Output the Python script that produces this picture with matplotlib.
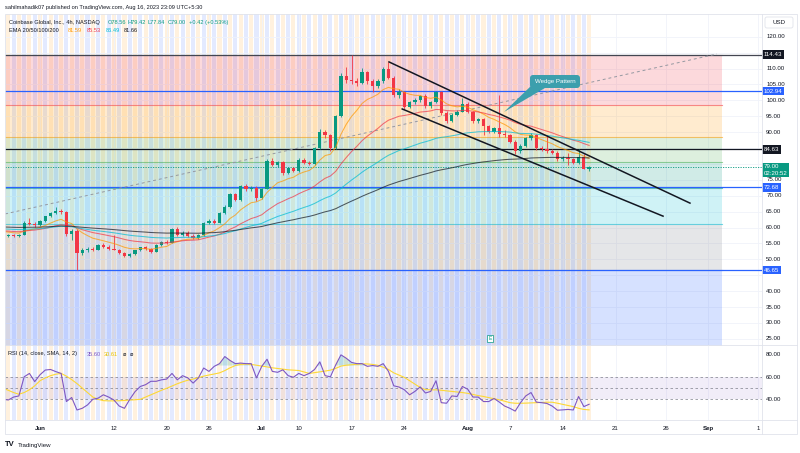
import matplotlib
matplotlib.use("Agg")
import matplotlib.pyplot as plt
import matplotlib.transforms as mtransforms
from matplotlib.patches import FancyBboxPatch, Polygon, Rectangle
import numpy as np

plt.rcParams["font.family"] = ["Liberation Sans", "DejaVu Sans"]

W, H = 800, 453
FS = 4.4
FS_HEAD = 4.1
TEXT = "#131722"
UP = "#089981"
DOWN = "#f23645"
GRID = "#f0f3fa"
BORDER = "#e0e3eb"

# ---- COIN 4h bars, May 25 -> Aug 16 2023 ----
opens = [58.3, 57.3, 57.6, 57.4, 57.8, 61.5, 61.2, 60.9, 62.2, 63.5,
         64.7, 65.3, 64.8, 58.0, 59.0, 52.0, 53.0, 53.4, 53.0, 54.5,
         54.0, 53.4, 53.1, 51.9, 51.0, 51.7, 52.8, 53.8, 53.2, 52.4,
         54.6, 55.6, 55.1, 59.5, 57.8, 58.4, 57.5, 56.8, 57.6, 61.5,
         62.2, 61.6, 64.6, 66.6, 70.5, 68.8, 73.0, 72.0, 72.6, 69.4,
         72.2, 81.0, 79.8, 80.6, 77.2, 78.6, 77.9, 81.4, 80.4, 80.1,
         85.0, 90.2, 89.0, 85.0, 95.0, 107.8, 106.5, 106.2, 105.4, 108.8,
         106.0, 104.4, 106.0, 110.0, 107.2, 101.8, 102.6, 98.0, 99.5, 100.1,
         101.3, 98.1, 99.4, 102.6, 96.1, 93.6, 95.5, 96.5, 99.0, 96.4,
         93.4, 94.1, 92.0, 90.1, 91.2, 89.4, 89.0, 87.0, 84.0, 85.8,
         88.1, 89.0, 85.0, 84.6, 84.1, 83.5, 81.5, 82.0, 81.6, 80.3,
         82.2, 78.56]
highs = [58.6, 57.9, 58.0, 58.0, 62.0, 63.0, 61.8, 62.5, 63.8, 65.0,
         66.6, 65.8, 65.2, 59.5, 59.6, 53.5, 53.8, 53.9, 54.8, 55.0,
         54.4, 57.6, 53.4, 52.2, 52.0, 53.0, 54.0, 54.2, 53.6, 54.8,
         55.9, 56.0, 60.0, 60.2, 58.9, 58.8, 57.9, 57.9, 61.8, 62.6,
         62.8, 65.0, 67.0, 71.0, 71.0, 73.4, 73.6, 73.0, 73.0, 72.5,
         81.6, 81.8, 81.0, 81.0, 79.0, 79.0, 81.8, 81.9, 81.0, 85.5,
         91.0, 90.6, 89.4, 95.5, 108.5, 110.5, 114.43, 107.2, 110.2, 109.4,
         106.6, 106.6, 110.6, 112.0, 107.6, 103.6, 103.0, 99.8, 100.6, 101.8,
         101.9, 99.8, 103.0, 103.0, 96.6, 95.9, 96.9, 100.7, 99.4, 96.8,
         94.6, 94.4, 92.3, 91.6, 101.7, 90.8, 89.4, 87.5, 86.2, 88.6,
         89.6, 89.4, 85.6, 89.0, 84.6, 84.0, 82.6, 83.4, 81.8, 84.8,
         83.0, 79.42]
lows = [57.0, 56.9, 57.2, 57.2, 57.6, 60.8, 60.3, 60.6, 61.9, 63.2,
        64.2, 64.3, 57.5, 56.0, 46.65, 51.5, 52.4, 52.7, 52.8, 53.6,
        53.0, 52.9, 51.6, 50.6, 50.7, 51.4, 52.5, 52.9, 52.0, 52.2,
        54.3, 54.7, 55.0, 57.4, 57.3, 57.2, 56.3, 56.5, 57.3, 61.0,
        61.0, 61.3, 64.2, 66.3, 68.3, 68.5, 71.5, 71.4, 68.5, 69.0,
        72.0, 79.3, 79.2, 76.5, 76.8, 77.4, 77.6, 80.0, 79.6, 79.8,
        84.8, 88.3, 84.2, 84.6, 94.8, 105.6, 105.2, 104.6, 105.0, 105.3,
        102.6, 103.8, 105.6, 106.6, 101.0, 100.6, 97.4, 97.5, 99.0, 99.6,
        97.6, 97.7, 99.1, 95.5, 93.0, 93.3, 95.0, 96.2, 96.0, 93.0,
        92.9, 89.2, 89.6, 89.8, 88.4, 88.6, 86.5, 83.2, 83.6, 85.5,
        87.6, 84.4, 84.0, 83.6, 83.0, 81.0, 81.0, 79.6, 80.0, 80.0,
        78.3, 77.84]
closes = [57.3, 57.6, 57.4, 57.8, 61.5, 61.2, 60.9, 62.2, 63.5, 64.7,
          65.3, 64.8, 58.0, 59.0, 52.0, 53.0, 53.4, 53.0, 54.5, 54.0,
          53.4, 53.1, 51.9, 51.0, 51.7, 52.8, 53.8, 53.2, 52.4, 54.6,
          55.6, 55.1, 59.5, 57.8, 58.4, 57.5, 56.8, 57.6, 61.5, 62.2,
          61.6, 64.6, 66.6, 70.5, 68.8, 73.0, 72.0, 72.6, 69.4, 72.2,
          81.0, 79.8, 80.6, 77.2, 78.6, 77.9, 81.4, 80.4, 80.1, 85.0,
          90.2, 89.0, 85.0, 95.0, 107.8, 106.5, 106.2, 105.4, 108.8, 106.0,
          104.4, 106.0, 110.0, 107.2, 101.8, 102.6, 98.0, 99.5, 100.1, 101.3,
          98.1, 99.4, 102.6, 96.1, 93.6, 95.5, 96.5, 99.0, 96.4, 93.4,
          94.1, 92.0, 90.1, 91.2, 89.4, 89.0, 87.0, 84.0, 85.8, 88.1,
          89.0, 85.0, 84.6, 84.1, 83.5, 81.5, 82.0, 81.6, 80.3, 82.2,
          78.58, 79.00]

rsi = [40, 39.4, 42, 43, 60, 63, 55.7, 61.8, 66, 66.5,
       64.6, 63, 38, 41.6, 30.5, 32, 35, 40, 41, 44,
       42, 39.4, 34, 32, 40, 46.8, 51.4, 53, 56, 56,
       57.3, 58, 63, 57.3, 61, 59, 54.4, 59, 67.8, 64.8,
       69.3, 71.7, 78, 74.5, 71.7, 72.2, 71.7, 71.7, 59, 69.3,
       75.6, 64.8, 64, 66.2, 61, 59.6, 63, 61, 63, 66.5,
       73.3, 61, 60, 70.5, 79.5, 76.5, 72.8, 71.7, 71.7, 69.3,
       70, 69.3, 71.7, 64.8, 52, 50.9, 48.5, 44, 47, 51,
       45.6, 47, 56.5, 37, 36.5, 43, 42.5, 51.4, 49, 42,
       42, 38, 38, 40.7, 37.5, 34, 32, 29.5, 37, 43,
       46, 37.5, 37, 36.3, 34, 30.3, 30.6, 31, 30.5, 42.5,
       33.5, 35.6]
rsi_ma = [49.8, 48, 46, 44.5, 46, 48.5, 52, 56.5, 59, 61,
          62.3, 63, 60.6, 57.5, 54, 50, 46, 42, 40, 38.8,
          38.6, 38.6, 38.7, 39, 39.3, 39.6, 40, 42, 44, 46,
          48, 49.8, 51.8, 53.8, 55.5, 57, 58, 59.2, 60.6, 61.6,
          62.5, 63.5, 65.5, 68, 70, 71, 71.3, 71, 70.3, 69.5,
          68.8, 68, 67.4, 66.8, 66.2, 65.9, 65.6, 64.3, 63, 63.7,
          64.4, 65.1, 65.9, 67.5, 69.5, 70.3, 70.7, 71.1, 71.5, 71.4,
          71, 70.2, 68.5, 66.5, 63.5, 61.5, 59.5, 56.5, 53.5, 50.5,
          48.6, 48.4, 48.4, 48, 47.5, 47, 46.5, 46, 45.3, 44.3,
          43.3, 42.5, 41.5, 40.5, 39.5, 38.3, 37, 36.5, 36.5, 36.6,
          36.8, 37, 37.2, 37.4, 37.4, 36.5, 35.5, 34.5, 33.5, 32,
          31, 30.6]

# EMA 20/50/100/200; the chart counts two bars for every drawn candle,
# so the smoothing spans in drawn candles are half the nominal lengths
ema_spans = [10, 25, 50, 100]
ema_first = [58.8, 59.0, 59.6, 60.2]
ema_colors = ["#ff9800", "#f23645", "#00bcd4", "#131722"]

# time axis (bar index of each label)
tick_pos = [7, 21, 31, 39, 49, 56, 66, 76, 88, 96, 106, 116, 125.5, 133.5, 143]
tick_labels = ["Jun", "12", "20", "26", "Jul", "10", "17", "24", "Aug",
               "7", "14", "21", "26", "Sep", "1"]
months = {"Jun", "Jul", "Aug", "Sep"}
# right-axis labels not hidden behind a price tag
price_ticks = [25, 30, 35, 40, 50, 55, 60, 65, 70, 75, 90, 95, 100, 105, 110, 120]

# fibonacci retracement 114.43 -> 46.65
fib_hi, fib_lo = 114.43, 46.65
fib_levels = [0, 0.236, 0.382, 0.5, 0.618, 0.786, 1, 1.618]
fib_colors = ["#787b86", "#f23645", "#ff9800", "#4caf50", "#089981",
              "#00bcd4", "#787b86", "#2962ff"]

# horizontal levels with their axis tags
level_prices = [114.43, 102.94, 84.63, 72.68, 46.65]
level_colors = ["#434651", "#2962ff", "#131722", "#2962ff", "#2962ff"]
tag_colors = ["#131722", "#2962ff", "#131722", "#2962ff", "#2962ff"]

# drawings (bar index, price)
trend_idx, trend_px = [0.4, 135.2], [64.3, 114.6]
wedge_top_idx, wedge_top_px = [73.1, 130.1], [112.1, 67.7]
wedge_bot_idx, wedge_bot_px = [75.6, 125.0], [97.3, 63.6]


# pixel calibration of the screenshot
def bar_at(px):
    return 7 + (px - 40) / 5.28


def price_at(py):
    return 30 + (323 - py) / 3.18


def rsi_at(py):
    return 40 + (399.3 - py) / 1.125


def fig_rect(x0, y0, x1, y1):
    return [x0 / W, 1 - y1 / H, (x1 - x0) / W, (y1 - y0) / H]


def ema(values, span, start):
    a = 2 / (span + 1)
    out = [start]
    for v in values[1:]:
        out.append(out[-1] + a * (v - out[-1]))
    return np.array(out)


n = len(closes)
idx = np.arange(n)
o, h, l, c = map(np.array, (opens, highs, lows, closes))
XL = (bar_at(5), bar_at(762))

fig = plt.figure(figsize=(W / 100, H / 100), dpi=100)
fig.patch.set_facecolor("white")

# background session stripes (both panes)
bg = fig.add_axes(fig_rect(5, 14, 762, 420), zorder=0)
bg.set_xlim(*XL)
bg.set_ylim(0, 1)
bg.axis("off")
stripe_cols = ["#2962ff" if k % 2 == 0 else "#ff9800" for k in idx]
bg.bar(idx, 1, width=0.78, bottom=0, color=stripe_cols, alpha=0.13, lw=0)

# ---- price pane ----
ax = fig.add_axes(fig_rect(5, 14, 762, 345), zorder=1)
ax.set_facecolor("none")
ax.set_xlim(*XL)
ax.set_ylim(price_at(345), price_at(14))
for s in ax.spines.values():
    s.set_visible(False)

fx0, fx1 = bar_at(5), bar_at(722)
rng = fib_hi - fib_lo
for k in range(len(fib_levels) - 1):
    top = fib_hi - fib_levels[k] * rng
    bot = fib_hi - fib_levels[k + 1] * rng
    ax.fill_between([fx0, fx1], bot, top, color=fib_colors[k + 1], alpha=0.19, lw=0, zorder=1)
for lv, col in zip(fib_levels, fib_colors):
    ax.plot([fx0, fx1], [fib_hi - lv * rng] * 2, color=col, lw=0.8, alpha=0.55, zorder=1.5)

for p, col in zip(level_prices, level_colors):
    ax.axhline(p, color=col, lw=0.9, zorder=2)

ax.plot(trend_idx, trend_px, color="#9598a1", lw=0.7, ls=(0, (3, 3)), zorder=3)
ax.axhline(closes[-1], color=UP, lw=0.6, ls=(0, (1.5, 1.5)), zorder=3)

cols = np.where(c >= o, UP, DOWN)
ax.vlines(idx, l, h, color=cols, lw=0.6, zorder=4)
ax.bar(idx, np.maximum(np.abs(c - o), 0.25), bottom=np.minimum(o, c), width=0.62,
       color=cols, lw=0, zorder=4.5)

for span, first, col in zip(ema_spans, ema_first, ema_colors):
    ax.plot(idx, ema(c, span, first), color=col, lw=0.75, alpha=0.7, zorder=5)

ax.plot(wedge_top_idx, wedge_top_px, color="#131722", lw=1.1, zorder=6)
ax.plot(wedge_bot_idx, wedge_bot_px, color="#131722", lw=1.1, zorder=6)

ax.set_xticks(tick_pos)
ax.tick_params(axis="x", labelbottom=False, length=0)
ax.set_yticks(list(range(25, 125, 5)))
ax.tick_params(axis="y", length=0, labelleft=False)
ax.grid(color=GRID, lw=0.6, zorder=0.5)
ax.set_axisbelow(True)

tr = mtransforms.blended_transform_factory(ax.transAxes, ax.transData)
for p in price_ticks:
    ax.text(1.0055, p, f"{p:.2f}", transform=tr, ha="left", va="center", fontsize=FS,
            color=TEXT, clip_on=False)
for p, col in zip(level_prices, tag_colors):
    ax.text(1.002, p, f"{p:.2f}", transform=tr, ha="left", va="center", fontsize=FS,
            color="white", bbox=dict(boxstyle="square,pad=0.3", fc=col, ec="none"),
            zorder=20, clip_on=False)
ax.text(1.002, closes[-1] - 0.9, f"{closes[-1]:.2f}\n02:20:52", transform=tr, ha="left",
        va="center", fontsize=FS, color="white", linespacing=1.3,
        bbox=dict(boxstyle="square,pad=0.3", fc=UP, ec="none"), zorder=20, clip_on=False)

# ---- RSI pane ----
ar = fig.add_axes(fig_rect(5, 345, 762, 420), zorder=1)
ar.set_facecolor("none")
ar.set_xlim(*XL)
ar.set_ylim(rsi_at(420), rsi_at(345))
for s in ar.spines.values():
    s.set_visible(False)
ar.axhspan(40, 60, color="#7e57c2", alpha=0.1, lw=0)
for lv in (60, 50, 40):
    ar.axhline(lv, color="#787b86", lw=0.6, ls=(0, (3, 3)), alpha=0.8)
r = np.array(rsi)
ar.fill_between(idx, 70, r, where=r > 70, interpolate=True, color=UP, alpha=0.18, lw=0)
ar.plot(idx, rsi_ma, color="#fdd835", lw=0.8)
ar.plot(idx, rsi, color="#7e57c2", lw=0.8)
ar.yaxis.tick_right()
ar.set_yticks([40, 60, 80])
ar.set_yticklabels(["40.00", "60.00", "80.00"])
ar.tick_params(axis="y", length=0, pad=3, labelsize=FS, labelcolor=TEXT)
ar.set_xticks(tick_pos)
ar.set_xticklabels(tick_labels)
ar.tick_params(axis="x", length=0, pad=4.5, labelsize=FS, labelcolor=TEXT)
for lab in ar.get_xticklabels():
    if lab.get_text() in months:
        lab.set_fontweight("bold")
ar.grid(axis="x", color=GRID, lw=0.6)
ar.set_axisbelow(True)

# ---- chrome in pixel space ----
ov = fig.add_axes([0, 0, 1, 1], zorder=5)
ov.set_xlim(0, W)
ov.set_ylim(H, 0)
ov.axis("off")
ov.add_patch(Rectangle((5, 14), 792, 420, fill=False, ec=BORDER, lw=0.6))
ov.plot([5, 797], [345, 345], color=BORDER, lw=0.6)
ov.plot([5, 797], [420, 420], color=BORDER, lw=0.6)
ov.plot([762, 762], [14, 434], color=BORDER, lw=0.6)

ov.text(5, 7, "sahilmahadik07 published on TradingView.com, Aug 16, 2023 23:09 UTC+5:30",
        fontsize=FS_HEAD, color=TEXT, va="center")
for txt, x, col in [("Coinbase Global, Inc., 4h, NASDAQ", 9, TEXT), ("O78.56", 108, UP),
                    ("H79.42", 128, UP), ("L77.84", 148, UP), ("C79.00", 168, UP),
                    ("+0.42 (+0.53%)", 189, UP)]:
    ov.text(x, 22.3, txt, fontsize=FS_HEAD, color=col, va="center")
for txt, x, col in [("EMA 20/50/100/200", 9, TEXT), ("81.59", 68, "#ff9800"),
                    ("85.53", 87, "#f23645"), ("86.49", 106, "#00bcd4"), ("81.66", 124, TEXT)]:
    ov.text(x, 30.7, txt, fontsize=FS_HEAD, color=col, va="center")
for txt, x, col in [("RSI (14, close, SMA, 14, 2)", 8, TEXT), ("35.60", 87, "#7e57c2"),
                    ("30.61", 104, "#e6c200"), ("\u2300", 123, TEXT), ("\u2300", 130, TEXT)]:
    ov.text(x, 354, txt, fontsize=FS_HEAD, color=col, va="center")

ov.add_patch(FancyBboxPatch((765, 17), 28, 11, boxstyle="round,pad=0,rounding_size=2",
                            fc="white", ec=BORDER, lw=0.6))
ov.text(779, 22.5, "USD", fontsize=FS, color=TEXT, ha="center", va="center")

# wedge callout
ov.add_patch(Polygon([(532, 85), (545, 88), (504, 112)], closed=True, fc="#3c9fad", ec="none"))
ov.add_patch(FancyBboxPatch((530, 75), 50, 13, boxstyle="round,pad=0,rounding_size=3",
                            fc="#3c9fad", ec="none"))
ov.text(555, 81.5, "Wedge Pattern", fontsize=FS, color="white", ha="center", va="center")

# earnings marker
ov.text(490, 338.5, "E", fontsize=3.6, color=UP, ha="center", va="center",
        bbox=dict(boxstyle="square,pad=0.25", fc="white", ec=UP, lw=0.5))

ov.text(5, 445, "TV", fontsize=5.5, fontweight="bold", color=TEXT, va="center")
ov.text(18, 445, "TradingView", fontsize=FS, color=TEXT, va="center")

fig.savefig("out.png", dpi=100)
